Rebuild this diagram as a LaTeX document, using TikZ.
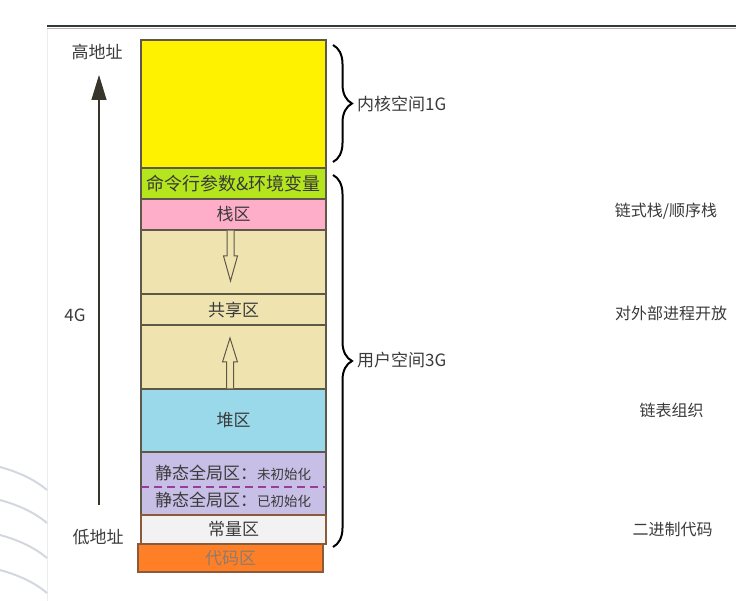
\documentclass[tikz,border=0pt]{standalone}
\usepackage{fontspec}
\setmainfont{Noto Sans CJK SC}
\usetikzlibrary{decorations.pathreplacing,arrows.meta}
\definecolor{cYellow}{HTML}{FFF200}
\definecolor{cGreen}{HTML}{B5E61D}
\definecolor{cPink}{HTML}{FFAEC9}
\definecolor{cTan}{HTML}{EFE4B0}
\definecolor{cBlue}{HTML}{99D9EA}
\definecolor{cPurple}{HTML}{C8BFE7}
\definecolor{cGray}{HTML}{F2F2F2}
\definecolor{cOrange}{HTML}{FF7F27}
\definecolor{segborder}{HTML}{5E5848}
\definecolor{brownborder}{HTML}{8A5A3A}
\definecolor{txt}{HTML}{3A3A3A}
\definecolor{codetext}{HTML}{8C7C70}
\definecolor{dashpurple}{HTML}{9B3C9B}
\definecolor{topline}{HTML}{2F3A38}
\definecolor{arcgray}{HTML}{D3D7DE}
\begin{document}
\begin{tikzpicture}[x=1pt,y=-1pt,
  seg/.style={draw=segborder, line width=1.2pt, inner sep=0pt, outer sep=0pt,
    minimum width=185pt, anchor=north west, text=txt,
    font=\fontsize{17}{17}\selectfont},
  lbl/.style={text=txt, inner sep=1pt, font=\fontsize{17}{17}\selectfont},
  rlbl/.style={text=txt, inner sep=1pt, font=\fontsize{16}{16}\selectfont},
  blockarrow/.style={draw=segborder, line width=1pt, fill=cTan, line join=miter},
  bracestyle/.style={decorate, decoration={brace, amplitude=19pt}, line width=2pt, draw=black}]
\useasboundingbox (0,0) rectangle (736,601);
% background decoration
\draw[topline, line width=2.5pt] (47,26) -- (736,26);
\draw[gray!60, line width=0.8pt] (47,28.2) -- (736,28.2);
\draw[gray!15, line width=0.8pt] (47,29) -- (47,601);
\foreach \yy in {467,500,535,570}
  \draw[arcgray, line width=2pt] (0,\yy) .. controls (18,\yy+5) and (34,\yy+12) .. (47,\yy+23);
% memory segments
\node[seg, fill=cYellow, minimum height=128pt] (kern) at (141,40) {};
\node[seg, fill=cGreen, minimum height=31pt, font=\fontsize{18}{18}\selectfont] (args) at (141,168) {命令行参数\&环境变量};
\node[seg, fill=cPink, minimum height=31pt] (stack) at (141,199) {栈区};
\node[seg, fill=cTan, minimum height=64pt] (gap1) at (141,230) {};
\node[seg, fill=cTan, minimum height=31pt] (shared) at (141,294) {共享区};
\node[seg, fill=cTan, minimum height=64pt] (gap2) at (141,325) {};
\node[seg, fill=cBlue, minimum height=63pt] (heap) at (141,389) {堆区};
\node[seg, fill=cPurple, minimum height=63pt] (static) at (141,452) {};
\node[seg, fill=cGray, minimum height=29pt, draw=brownborder] (const) at (141,515) {常量区};
\node[seg, fill=cOrange, minimum height=28pt, draw=brownborder, text=codetext] (code) at (138,544) {代码区};
% static area contents
\draw[dashpurple, line width=1.5pt, dash pattern=on 8pt off 5pt] ([yshift=-3.5pt]static.west) -- ([yshift=-3.5pt]static.east);
\node[lbl] (bss) at (233,473) {静态全局区：{\fontsize{13.5}{13.5}\selectfont 未初始化}};
\node[lbl] (data) at (233,500) {静态全局区：{\fontsize{13.5}{13.5}\selectfont 已初始化}};
% growth arrows
\draw[blockarrow] (227,230.6) -- (227,256) -- (223.5,256) -- (230.5,281) -- (237.5,256) -- (234,256) -- (234,230.6);
\draw[blockarrow] (226.5,388.4) -- (226.5,362) -- (222.5,362) -- (230,338) -- (237.5,362) -- (233.5,362) -- (233.5,388.4);
% address axis
\node[lbl] (hi) at (97,52) {高地址};
\node[lbl] (g4) at (75,315) {4G};
\node[lbl] (lo) at (98,537) {低地址};
\coordinate (axbottom) at (99,505);
\coordinate (axtop) at (99,75);
\draw[segborder!60!black, line width=1.2pt, -{Triangle[length=25pt,width=15pt]}] (axbottom) -- (axtop);
% braces
\coordinate (kb1) at (333,45);
\coordinate (kb2) at (333,162);
\coordinate (ub1) at (333,175);
\coordinate (ub2) at (333,547);
\draw[bracestyle] (kb1) -- (kb2);
\draw[bracestyle] (ub1) -- (ub2);
\node[lbl, anchor=west] (kspace) at (356,104) {内核空间1G};
\node[lbl, anchor=west] (uspace) at (356,360) {用户空间3G};
% right notes
\node[rlbl] (n1) at (666,211) {链式栈/顺序栈};
\node[rlbl] (n2) at (671,313) {对外部进程开放};
\node[rlbl] (n3) at (671.5,410) {链表组织};
\node[rlbl] (n4) at (672.5,529) {二进制代码};
\end{tikzpicture}
\end{document}
